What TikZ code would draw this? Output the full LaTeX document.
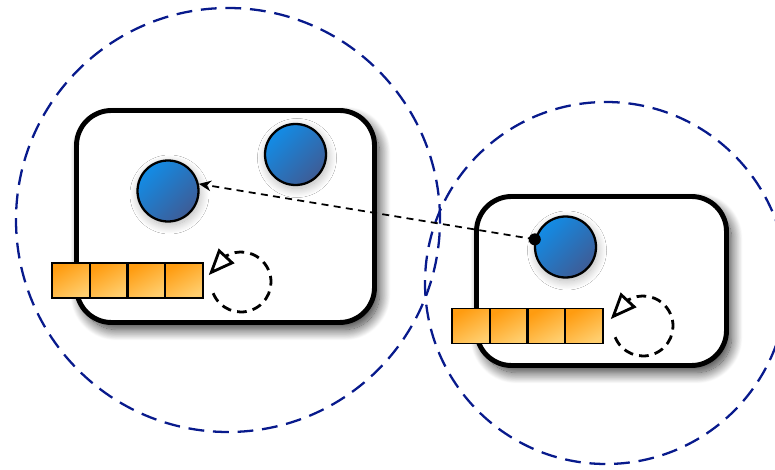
\documentclass[tikz,border=0pt]{standalone}
\usepackage{tikz}
\usetikzlibrary{shadows.blur,arrows.meta}
\definecolor{ballhi}{RGB}{18,140,230}
\definecolor{balllo}{RGB}{62,92,150}
\definecolor{queuehi}{RGB}{255,156,16}
\definecolor{queuelo}{RGB}{255,206,110}
\definecolor{reachblue}{RGB}{8,26,140}
\begin{document}
\begin{tikzpicture}[
  process/.style={draw, line width=2.8pt, rounded corners=0.7cm, fill=white,
    blur shadow={shadow xshift=0.1cm, shadow yshift=-0.14cm, shadow blur radius=0.22cm, shadow opacity=80, shadow blur steps=20}},
  actor/.style={circle, draw, line width=1.3pt, minimum size=1.22cm, inner sep=0pt,
    top color=ballhi, bottom color=balllo, shading angle=45,
    blur shadow={shadow xshift=0.03cm, shadow yshift=-0.07cm, shadow blur radius=0.18cm, shadow opacity=30, shadow blur steps=20}},
  slot/.style={draw, line width=1.1pt, minimum width=0.755cm, minimum height=0.7cm, inner sep=0pt,
    top color=queuehi, bottom color=queuelo, shading angle=30},
  reach/.style={draw=reachblue, line width=1.3pt, dash pattern=on 9pt off 5pt},
  loopback/.style={line width=1.6pt, dash pattern=on 5.5pt off 3.5pt},
  loophead/.style={line width=1.6pt, solid, -{Triangle[open, length=15pt, width=12pt]}}
]
\useasboundingbox (0,0) rectangle (15.5,9.38);
\draw[reach] (4.56,4.98) circle (4.24);
\draw[reach] (12.12,3.72) circle (3.62);
\node[process, minimum width=5.96cm, minimum height=4.24cm] (box1) at (4.51,5.05) {};
\node[process, minimum width=5.0cm, minimum height=3.38cm] (box2) at (12.03,3.76) {};
\node[actor] (b11) at (3.36,5.56) {};
\node[actor] (b12) at (5.91,6.29) {};
\node[actor] (b21) at (11.31,4.44) {};
\node[slot] (q11) at (1.42,3.77) {};
\node[slot] (q12) at (2.17,3.77) {};
\node[slot] (q13) at (2.93,3.77) {};
\node[slot] (q14) at (3.68,3.77) {};
\node[slot] (q21) at (9.42,2.86) {};
\node[slot] (q22) at (10.17,2.86) {};
\node[slot] (q23) at (10.93,2.86) {};
\node[slot] (q24) at (11.68,2.86) {};
\coordinate (l1) at (4.82,3.74);
\coordinate (l2) at (12.86,2.86);
\draw[loopback] ([shift={(202:0.6)}]l1) arc[start angle=202, end angle=480, radius=0.6];
\draw[loopback] ([shift={(202:0.6)}]l2) arc[start angle=202, end angle=480, radius=0.6];
\draw[loophead] ([shift={(118:0.6)}]l1) -- ([shift={(168:0.66)}]l1);
\draw[loophead] ([shift={(118:0.6)}]l2) -- ([shift={(168:0.66)}]l2);
\fill (b21.166) circle (0.12);
\draw[-{Stealth[length=7pt, width=6pt]}, line width=1pt, dash pattern=on 4pt off 3pt] (b21.166) -- (b11.13);
\end{tikzpicture}
\end{document}
